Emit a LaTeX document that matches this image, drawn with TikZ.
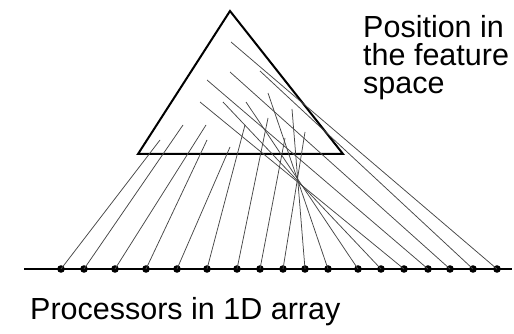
\documentclass[tikz,border=0pt]{standalone}
\usepackage{fontspec}
\setmainfont{Liberation Sans}
\begin{document}
\begin{tikzpicture}[x=1pt,y=-1pt,
  proc/.style={circle,fill=black,inner sep=0pt,minimum size=7.6pt},
  link/.style={draw=black!72,line width=0.75pt},
  tri/.style={draw=black,line width=2pt,line join=miter},
  axis/.style={draw=black,line width=1.8pt},
  lbl/.style={anchor=base west,inner sep=0pt,font=\fontsize{30.5}{30}\selectfont}]
\useasboundingbox (0,0) rectangle (514,334);
% triangle (feature space)
\coordinate (ta) at (230,11);
\coordinate (tl) at (138,154);
\coordinate (tr) at (343,154);
\draw[tri] (ta) -- (tl) -- (tr) -- cycle;
% array axis
\coordinate (al) at (24,269);
\coordinate (ar) at (512,269);
\draw[axis] (al) -- (ar);
% weight positions
\foreach \i/\x/\y in {1/160/140,2/183/125,3/206/125,4/207/140,5/230/147,6/245/125,
  7/268/118,8/285/138,9/305/132,10/292/109,11/268/93,12/246/102,13/223/102,
  14/200/102,15/207/80,16/230/72,17/260/71,18/231/42}
  \coordinate (w\i) at (\x,\y);
% processors
\foreach \i/\x in {1/61,2/84,3/115,4/146,5/177,6/207,7/237,8/260,9/283,10/305,
  11/328,12/358,13/381,14/404,15/428,16/450,17/473,18/497}
  \node[proc] (p\i) at (\x,269) {};
\foreach \i in {1,...,18}
  \draw[link] (p\i.center) -- (w\i);
% labels
\node[lbl] (pos1) at (363,38) {Position in};
\node[lbl] (pos2) at (363,66) {the feature};
\node[lbl] (pos3) at (363,94) {space};
\node[lbl] (proc) at (30,319) {Processors in 1D array};
\end{tikzpicture}
\end{document}
